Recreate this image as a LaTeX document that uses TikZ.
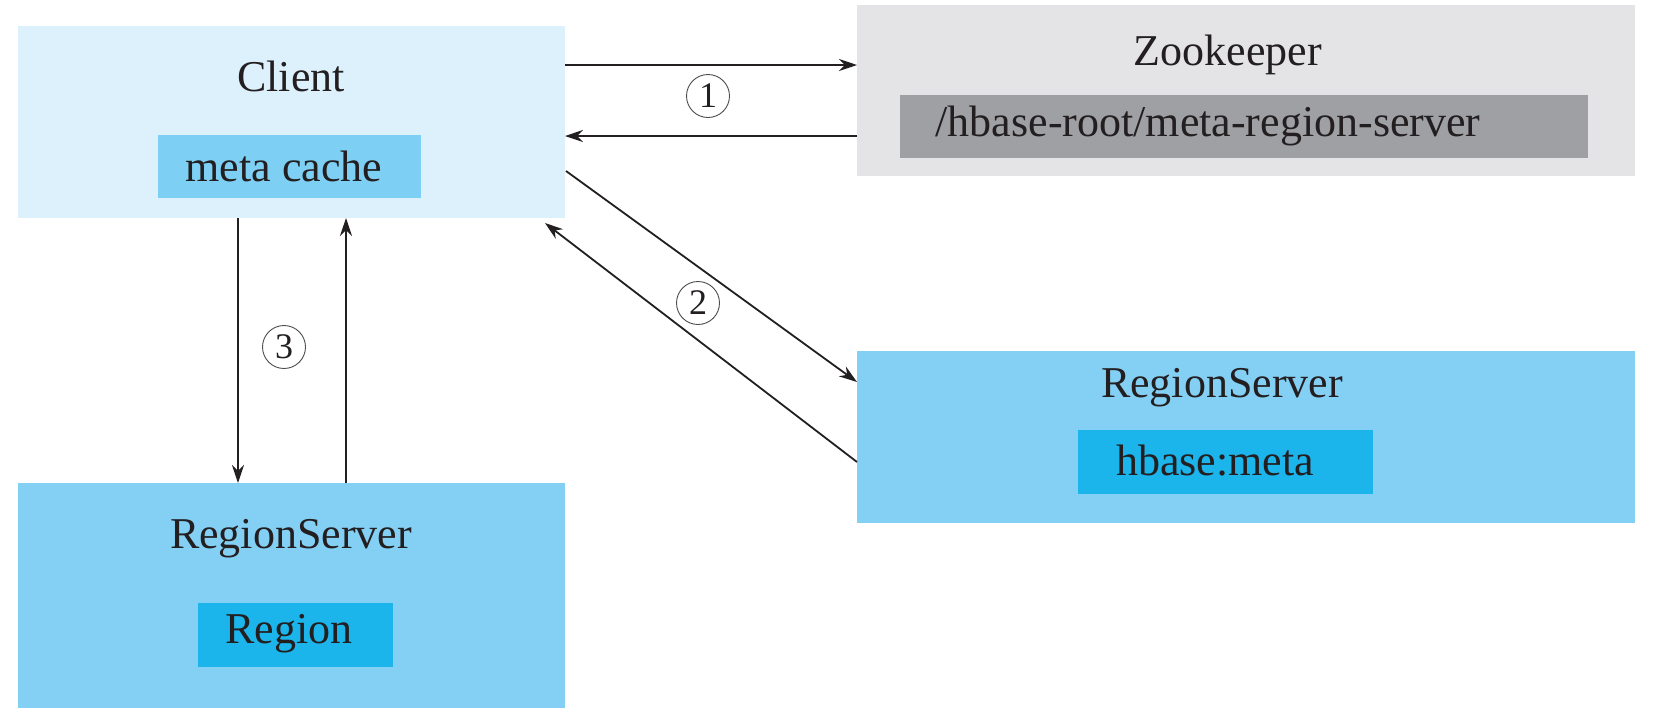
\documentclass[tikz,border=0pt]{standalone}
\usepackage{fontspec}
\setmainfont{Liberation Serif}
\usetikzlibrary{arrows.meta,calc}
\definecolor{clientfill}{HTML}{DDF1FC}
\definecolor{cachefill}{HTML}{7DCFF4}
\definecolor{zkfill}{HTML}{E4E4E6}
\definecolor{rootfill}{HTML}{9FA0A3}
\definecolor{rsfill}{HTML}{84D0F5}
\definecolor{innerfill}{HTML}{1BB4EB}
\definecolor{ink}{HTML}{231F20}
\begin{document}
\begin{tikzpicture}[x=0.5pt,y=-0.5pt,
  box/.style={draw=none,inner sep=0pt,outer sep=0pt},
  lbl/.style={inner sep=0pt,text=ink,font=\fontsize{22}{26}\selectfont},
  arr/.style={draw=ink,line width=0.9pt,-{Stealth[length=9pt,width=6pt]}},
  circnum/.style={circle,draw=ink!80,line width=0.45pt,inner sep=0pt,minimum size=21.5pt,text=ink,font=\fontsize{18}{20}\selectfont}]
\useasboundingbox[fill=white] (0,0) rectangle (1657,709);
% boxes
\node[box,fill=clientfill,minimum width=273.5pt,minimum height=96pt] (client) at (291.5,122) {};
\node[lbl] (clientlbl) at (291,76) {Client};
\node[box,fill=cachefill,minimum width=131.5pt,minimum height=31.5pt] (cache) at (289.5,166.5) {};
\node[lbl] (cachelbl) at (284,166) {meta cache};

\node[box,fill=zkfill,minimum width=389pt,minimum height=85.5pt] (zk) at (1246,90.5) {};
\node[lbl] (zklbl) at (1228,55) {Zookeeper};
\node[box,fill=rootfill,minimum width=344pt,minimum height=31.5pt] (root) at (1244,126.5) {};
\node[lbl] (rootlbl) at (1208,126) {/hbase-root/meta-region-server};

\node[box,fill=rsfill,minimum width=389pt,minimum height=86pt] (rsr) at (1246,437) {};
\node[lbl] (rsrlbl) at (1222,388) {RegionServer};
\node[box,fill=innerfill,minimum width=147.5pt,minimum height=32pt] (meta) at (1225.5,462) {};
\node[lbl] (metalbl) at (1215,461) {hbase:meta};

\node[box,fill=rsfill,minimum width=273.5pt,minimum height=112.5pt] (rsl) at (291.5,595.5) {};
\node[lbl] (rsllbl) at (291,539) {RegionServer};
\node[box,fill=innerfill,minimum width=97.5pt,minimum height=32pt] (region) at (295.5,635) {};
\node[lbl] (regionlbl) at (289,634) {Region};

% step labels
\node[circnum] (c1) at (708,96) {1};
\node[circnum] (c2) at (698,303) {2};
\node[circnum] (c3) at (284,347) {3};

% connectors
\draw[arr] (client.east |- 0,65) -- (zk.west |- 0,65);
\draw[arr] (zk.west |- 0,136) -- (client.east |- 0,136);
\draw[arr] ($(client.east |- 0,171)+(1,0)$) -- (rsr.west |- 0,382);
\draw[arr] (rsr.west |- 0,462) -- ($(client.south east)+(-20,5)$);
\draw[arr] (client.south -| 238,0) -- (rsl.north -| 238,0);
\draw[arr] (rsl.north -| 346,0) -- (client.south -| 346,0);
\end{tikzpicture}
\end{document}
